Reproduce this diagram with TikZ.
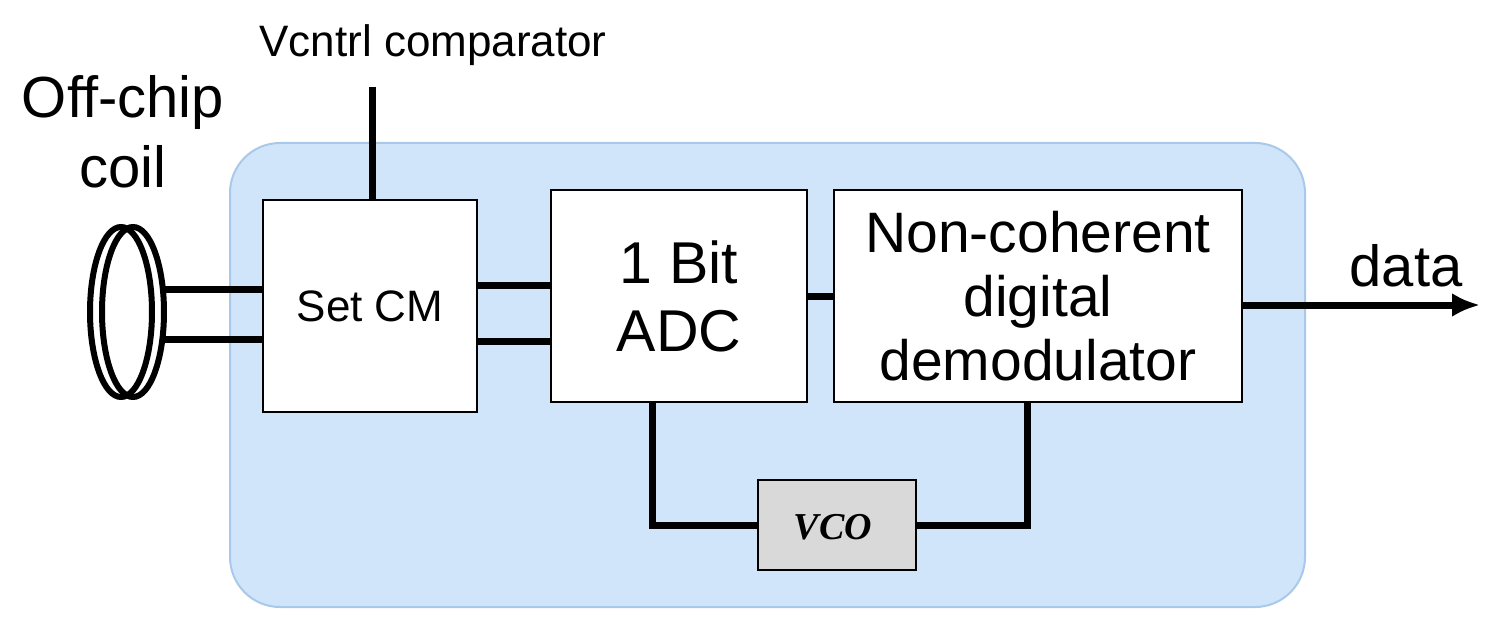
\documentclass[tikz,border=0pt]{standalone}
\usetikzlibrary{arrows.meta}
\usepackage{fontspec}
\setmainfont{Liberation Sans}
\newfontfamily\vcofont{Liberation Serif}
\begin{document}
\begin{tikzpicture}[x=0.5pt,y=-0.5pt,
  blk/.style={draw,line width=1pt,fill=white,inner sep=0pt},
  wire/.style={line width=3.5pt},
  big/.style={font=\fontsize{29}{33}\selectfont,align=center}]
\useasboundingbox (0,0) rectangle (1500,631);
\definecolor{chipfill}{HTML}{D0E5FA}
\definecolor{chipedge}{HTML}{A9C9EA}
\node[draw=chipedge,line width=1pt,fill=chipfill,rounded corners=25pt,minimum width=537.5pt,minimum height=232pt] (chip) at (767.5,375) {};
\node[blk,minimum width=107pt,minimum height=106pt] (cm) at (370,306) {};
\node[font=\fontsize{22}{26}\selectfont] (cmt) at (370,306) {Set CM};
\node[blk,minimum width=128pt,minimum height=106pt] (adc) at (679,296) {};
\node[big,font=\fontsize{29.5}{34}\selectfont] (adct) at (679,296) {1 Bit\\ADC};
\node[blk,minimum width=204pt,minimum height=106pt] (dem) at (1038,296) {};
\node[big,font=\fontsize{28.5}{32}\selectfont] (demt) at (1038,296) {Non-coherent\\digital\\demodulator};
\node[blk,fill=black!15,minimum width=79pt,minimum height=45pt] (vco) at (837,525) {};
\node[font=\vcofont\bfseries\itshape\fontsize{19}{22}\selectfont] (vcot) at (833,527) {VCO};
\node[font=\fontsize{22}{26}\selectfont] (vct) at (433,45) {Vcntrl comparator};
\coordinate (vtop) at (372,87);
\draw[wire] (vtop) -- (vtop |- cm.north);
\node[big,font=\fontsize{29}{35}\selectfont] (coilt) at (123,132) {Off-chip\\coil};
\draw[line width=3pt] (121,312) ellipse[x radius=15.5pt,y radius=42.5pt];
\draw[line width=3pt] (133,312) ellipse[x radius=15.5pt,y radius=42.5pt];
\coordinate (c1) at (160,289); \coordinate (c2) at (160,339);
\draw[wire] (c1) -- (c1 -| cm.west);
\draw[wire] (c2) -- (c2 -| cm.west);
\coordinate (a1) at (477,285); \coordinate (a2) at (477,341);
\draw[wire] (a1) -- (a1 -| adc.west);
\draw[wire] (a2) -- (a2 -| adc.west);
\draw[wire] (adc.east |- 0,296) -- (dem.west |- 0,296);
\draw[wire] (652,402) |- (vco.west);
\draw[wire] (1027,402) |- (vco.east);
\coordinate (dout) at (1480,305);
\draw[wire,-{Latex[length=14pt,width=12pt]}] (dem.east |- dout) -- (dout);
\node[font=\fontsize{29}{33}\selectfont] (datat) at (1406,266) {data};
\end{tikzpicture}
\end{document}
